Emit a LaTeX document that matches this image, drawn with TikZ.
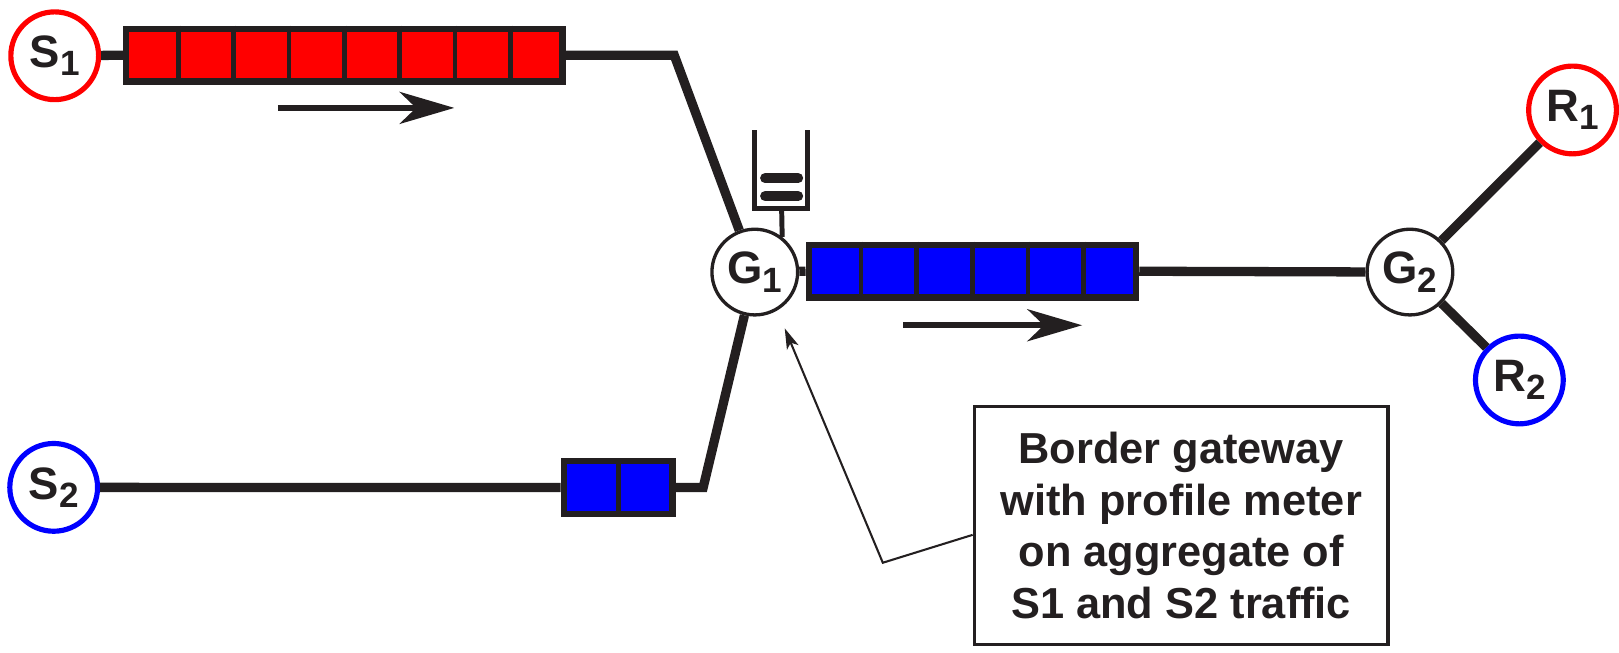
\documentclass[tikz,border=0pt]{standalone}
\usepackage{fontspec}
\setmainfont{Liberation Sans}
\usetikzlibrary{arrows.meta,calc}
\definecolor{ink}{HTML}{231F20}
\definecolor{qred}{HTML}{FF0000}
\definecolor{qblue}{HTML}{0000FF}
\newcommand\nsub[1]{\raisebox{-8pt}{\fontsize{34}{34}\selectfont #1}}
\begin{document}
\begin{tikzpicture}[x=1pt,y=-1pt,
  host/.style={circle, draw=#1, line width=5pt, fill=white, minimum size=85pt, inner sep=0pt, text=ink, font=\bfseries\fontsize{44}{44}\selectfont},
  gw/.style={circle, draw=ink, line width=3.2pt, fill=white, minimum size=83pt, inner sep=0pt, text=ink, font=\bfseries\fontsize{44}{44}\selectfont},
  link/.style={draw=ink, line width=9pt},
  queue/.style={draw=ink, line width=6.2pt, fill=#1, minimum height=51pt, inner sep=0pt},
  divider/.style={draw=ink, line width=4.5pt},
  flow/.style={draw=ink, line width=5.5pt, -{Stealth[length=53pt,width=31pt,inset=16pt]}},
  pointer/.style={draw=ink, line width=2pt, -{Stealth[length=20pt,width=12pt,inset=5pt]}},
  bufline/.style={draw=ink, line width=4.8pt},
  packet/.style={draw=ink, line width=9.7pt, line cap=round}
]
\useasboundingbox (0,0) rectangle (1568,632.4);
% queues
\node[queue=qred, minimum width=422.5pt] (q1) at (333.5,53.5) {};
\node[queue=qblue, minimum width=317pt] (q2) at (941.75,262.7) {};
\node[queue=qblue, minimum width=105.5pt] (q3) at (598.7,472.2) {};
\foreach \q/\n in {q1/8,q2/6,q3/2}{
  \pgfmathtruncatemacro\m{\n-1}
  \foreach \i in {1,...,\m}{
    \draw[divider] ($(\q.north west)!\i/\n!(\q.north east)$) -- ($(\q.south west)!\i/\n!(\q.south east)$);
  }
}
% nodes
\node[host=qred] (S1) at (53,54) {S\nsub{1}};
\node[host=qblue] (S2) at (52,472) {S\nsub{2}};
\node[host=qred] (R1) at (1523,106.5) {R\nsub{1}};
\node[host=qblue] (R2) at (1471.5,368) {R\nsub{2}};
\node[gw] (G1) at (731,263.5) {G\nsub{1}};
\node[gw] (G2) at (1365.5,263.5) {G\nsub{2}};
\coordinate (c1) at (653,53.5);
\coordinate (c2) at (681,472.2);
% links
\draw[link] (S1) -- (q1.west);
\draw[link, line join=miter] (q1.east) -- (c1) -- (G1);
\draw[link] (S2) -- (q3.west);
\draw[link, line join=miter] (q3.east) -- (c2) -- (G1);
\draw[link] (G1) -- (q2.west);
\draw[link] (q2.east) -- (G2);
\draw[link] (G2) -- (R1);
\draw[link] (G2) -- (R2);
% buffer
\coordinate (b1) at (731,126);
\coordinate (b2) at (731,202);
\coordinate (b3) at (782.5,202);
\coordinate (b4) at (782.5,126);
\coordinate (bs) at (757,202);
\draw[bufline, line join=miter] (b1) -- (b2) -- (b3) -- (b4);
\draw[bufline] (bs) -- (G1.52);
\draw[packet] (741,172.6) -- (773,172.6);
\draw[packet] (741,190) -- (773,190);
% flow arrows
\coordinate (f1a) at (269,104.5);
\coordinate (f1b) at (440,104.5);
\coordinate (f2a) at (875,315);
\coordinate (f2b) at (1048,315);
\draw[flow] (f1a) -- (f1b);
\draw[flow] (f2a) -- (f2b);
% box
\node[draw=ink, line width=3.2pt, minimum width=400.8pt, minimum height=230.8pt, align=center, inner sep=0pt, text=ink, font=\bfseries\fontsize{42}{50}\selectfont] (box) at (1144,509) {Border gateway\\with profile meter\\on aggregate of\\S1 and S2 traffic};
\coordinate (k) at (855,545);
\coordinate (tip) at (760,318);
\draw[pointer] ([yshift=-9pt]box.west) -- (k) -- (tip);
\end{tikzpicture}
\end{document}
